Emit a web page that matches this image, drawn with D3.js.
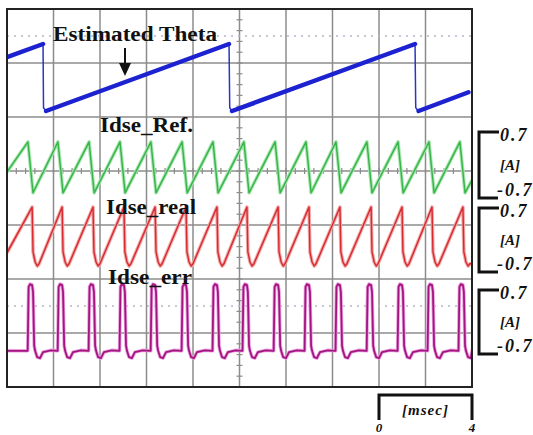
<!DOCTYPE html>
<html>
<head>
<meta charset="utf-8">
<script src="https://cdn.jsdelivr.net/npm/d3@7"></script>
<style>
  body { margin: 0; background: #fff; }
  svg { display: block; }
</style>
</head>
<body>
<div id="chart"></div>
<script>
// time base: 10 divisions, 2 msec each
const timeRange = [0, 20];
const gridCols = 10;
const gridRows = 7;

// Estimated Theta [msec] / [rad]
const thetaT = [0, 1.55, 1.57, 1.68, 9.55, 9.58, 9.68, 17.55, 17.58, 17.70, 19.85];
const thetaV = [5.02, 6.25, 0.30, 0.0, 6.25, 0.30, 0.0, 6.25, 0.30, 0.0, 1.75];

// Idse_Ref: peak times [msec], one cycle [dt, A], values at both edges
const refPeaks = [0.90, 2.19, 3.53, 4.86, 6.19, 7.53, 8.86, 10.19, 11.53, 12.86, 14.15, 15.48, 16.82, 18.15, 19.48];
const refShape = [[0, 0.49], [0.22, -0.59]];
const refEnds = [-0.15, -0.32];

// Idse_real
const realPeaks = [1.08, 2.37, 3.70, 5.03, 6.37, 7.70, 9.03, 10.32, 11.66, 12.99, 14.32, 15.66, 16.99, 18.28, 19.61];
const realShape = [[0, 0.72], [0.04, -0.26], [0.13, -0.48], [0.22, -0.57], [0.30, -0.52]];
const realEnds = [-0.28, -0.52];

// Idse_err
const errPeaks = [1.08, 2.37, 3.70, 5.03, 6.37, 7.70, 9.03, 10.32, 11.66, 12.99, 14.32, 15.66, 16.99, 18.28, 19.61];
const errShape = [[-0.19, -0.63], [-0.15, 0.77], [-0.09, 0.83], [0, 0.81], [0.04, 0.66], [0.09, -0.52],
                  [0.13, -0.63], [0.22, -0.77], [0.34, -0.79], [0.47, -0.66], [0.8, -0.62]];
const errEnds = [-0.63, -0.63];

// labels
const traceNames = ["Estimated Theta", "Idse_Ref.", "Idse_real", "Idse_err"];
const ampTicks = ["0.7", "-0.7"];
const timeTicks = ["0", "4"];

const width = 533, height = 435;
const pLeft = 7, pRight = 472, pTop = 9, pBottom = 387;

const svg = d3.select("#chart").append("svg")
    .attr("width", width)
    .attr("height", height);

const x = d3.scaleLinear().domain(timeRange).range([pLeft, pRight]);
const gy = d3.scaleLinear().domain([0, gridRows]).range([pTop, pBottom]);
const yTheta = d3.scaleLinear().domain([0, 6.25]).range([111, 44]);
const yRef = d3.scaleLinear().domain([-0.7, 0.7]).range([198, 132]);
const yReal = d3.scaleLinear().domain([-0.7, 0.7]).range([272, 208]);
const yErr = d3.scaleLinear().domain([-0.7, 0.7]).range([354, 290]);

// build the point list of a repeating trace
function buildTrace(peaks, shape, ends) {
    const pts = [[timeRange[0], ends[0]]];
    peaks.forEach(p => shape.forEach(s => pts.push([p + s[0], s[1]])));
    pts.push([timeRange[1], ends[1]]);
    return pts.sort((a, b) => a[0] - b[0]);
}

svg.append("defs").append("clipPath").attr("id", "plot")
    .append("rect").attr("x", pLeft).attr("y", pTop)
    .attr("width", pRight - pLeft).attr("height", pBottom - pTop);

// grid
const grid = svg.append("g");
grid.selectAll("line.v")
    .data(d3.range(1, gridCols))
    .join("line")
    .attr("x1", d => x(d * 2)).attr("x2", d => x(d * 2))
    .attr("y1", pTop).attr("y2", pBottom)
    .attr("stroke", "#8c8c8c").attr("stroke-width", 1.5);
grid.selectAll("line.h")
    .data(d3.range(1, gridRows))
    .join("line")
    .attr("y1", d => gy(d)).attr("y2", d => gy(d))
    .attr("x1", pLeft).attr("x2", pRight)
    .attr("stroke", "#8c8c8c").attr("stroke-width", 1.5);

// dotted half-division lines
grid.selectAll("line.dot")
    .data([0.5, 5.5])
    .join("line")
    .attr("y1", d => gy(d)).attr("y2", d => gy(d))
    .attr("x1", pLeft).attr("x2", pRight)
    .attr("stroke", "#b8b8c8").attr("stroke-width", 1.5)
    .attr("stroke-dasharray", "2,5");

// minor ticks on the centre vertical and on the third horizontal line
grid.selectAll("line.tv")
    .data(d3.range(1, gridRows * 5))
    .join("line")
    .attr("x1", x(10) - 3).attr("x2", x(10) + 3)
    .attr("y1", d => gy(d / 5)).attr("y2", d => gy(d / 5))
    .attr("stroke", "#8c8c8c").attr("stroke-width", 1.2);
grid.selectAll("line.th")
    .data(d3.range(1, gridCols * 5))
    .join("line")
    .attr("y1", gy(3) - 3).attr("y2", gy(3) + 3)
    .attr("x1", d => x(d * 0.4)).attr("x2", d => x(d * 0.4))
    .attr("stroke", "#8c8c8c").attr("stroke-width", 1.2);

const plot = svg.append("g").attr("clip-path", "url(#plot)");

// Estimated Theta: thin full trace, thick ramps
const thetaPts = thetaT.map((t, i) => [t, thetaV[i]]);
const thetaLine = d3.line().x(d => x(d[0])).y(d => yTheta(d[1]));
plot.append("path")
    .attr("d", thetaLine(thetaPts))
    .attr("fill", "none").attr("stroke", "#2a34c8").attr("stroke-width", 1.5);
const ramps = [];
let seg = [thetaPts[0]];
for (let i = 1; i < thetaPts.length; i++) {
    if (thetaPts[i][1] < thetaPts[i - 1][1] - 3) { ramps.push(seg); seg = []; continue; }
    seg.push(thetaPts[i]);
}
ramps.push(seg);
plot.selectAll("path.ramp")
    .data(ramps.filter(r => r.length > 1))
    .join("path")
    .attr("d", thetaLine)
    .attr("fill", "none").attr("stroke", "#1c22d0")
    .attr("stroke-width", 4.5).attr("stroke-linecap", "round");

// current traces
const traces = [
    { pts: buildTrace(refPeaks, refShape, refEnds), y: yRef, halo: "#a6e6ae", core: "#37b44a", w: 1.4 },
    { pts: buildTrace(realPeaks, realShape, realEnds), y: yReal, halo: "#f2a6a6", core: "#d62a30", w: 1.4 },
    { pts: buildTrace(errPeaks, errShape, errEnds), y: yErr, halo: "#eb9ee0", core: "#a3157f", w: 1.8 }
];
traces.forEach(tr => {
    const line = d3.line().x(d => x(d[0])).y(d => tr.y(d[1]));
    plot.append("path").attr("d", line(tr.pts))
        .attr("fill", "none").attr("stroke", tr.halo).attr("stroke-width", 3.5)
        .attr("stroke-linejoin", "round");
    plot.append("path").attr("d", line(tr.pts))
        .attr("fill", "none").attr("stroke", tr.core).attr("stroke-width", tr.w)
        .attr("stroke-linejoin", "round");
});

// frame
svg.append("rect")
    .attr("x", pLeft).attr("y", pTop)
    .attr("width", pRight - pLeft).attr("height", pBottom - pTop)
    .attr("fill", "none").attr("stroke", "#222").attr("stroke-width", 2);

// trace names
const nameFont = "'Liberation Serif', 'Times New Roman', serif";
const names = [
    { t: traceNames[0], x: 53, y: 41, w: 164 },
    { t: traceNames[1], x: 100, y: 132, w: 93 },
    { t: traceNames[2], x: 106, y: 214, w: 90 },
    { t: traceNames[3], x: 108, y: 284, w: 84 }
];
svg.selectAll("text.name")
    .data(names)
    .join("text")
    .attr("x", d => d.x).attr("y", d => d.y)
    .attr("textLength", d => d.w).attr("lengthAdjust", "spacingAndGlyphs")
    .attr("font-family", nameFont).attr("font-weight", "bold")
    .attr("font-size", 20).attr("fill", "#111")
    .text(d => d.t);

// arrow under "Estimated Theta"
svg.append("line")
    .attr("x1", 125).attr("x2", 125).attr("y1", 48).attr("y2", 66)
    .attr("stroke", "#111").attr("stroke-width", 2);
svg.append("path")
    .attr("d", "M119,63 L131,63 L125,76 Z")
    .attr("fill", "#111");

// amplitude brackets
const scales = [yRef, yReal, yErr];
const bx = 479;
const labels = svg.append("g")
    .attr("font-family", nameFont).attr("font-weight", "bold")
    .attr("font-style", "italic").attr("fill", "#111").attr("font-size", 18);
scales.forEach(ys => {
    const y0 = ys(0.7), y1 = ys(-0.7);
    labels.append("path")
        .attr("d", `M${bx + 20},${y0} H${bx} V${y1} H${bx + 19}`)
        .attr("fill", "none").attr("stroke", "#111").attr("stroke-width", 3);
    labels.append("text")
        .attr("x", bx + 21).attr("y", y0 + 9)
        .attr("letter-spacing", 2)
        .text(ampTicks[0]);
    labels.append("text")
        .attr("x", bx + 18).attr("y", y1 - 2.5)
        .attr("letter-spacing", 2)
        .text(ampTicks[1]);
    labels.append("text")
        .attr("x", bx + 31).attr("y", (y0 + y1) / 2 + 5)
        .attr("text-anchor", "middle").attr("font-size", 15)
        .text("[A]");
});

// time bracket
const tb = [x(16), x(20)];
labels.append("path")
    .attr("d", `M${tb[0]},420 V395 H${tb[1]} V420`)
    .attr("fill", "none").attr("stroke", "#111").attr("stroke-width", 3);
labels.append("text")
    .attr("x", (tb[0] + tb[1]) / 2).attr("y", 415)
    .attr("text-anchor", "middle").attr("font-size", 15)
    .attr("letter-spacing", 1)
    .text("[msec]");
labels.selectAll("text.tt")
    .data(timeTicks)
    .join("text")
    .attr("x", (d, i) => tb[i])
    .attr("y", 432)
    .attr("text-anchor", "middle").attr("font-size", 13)
    .text(d => d);
</script>
</body>
</html>
